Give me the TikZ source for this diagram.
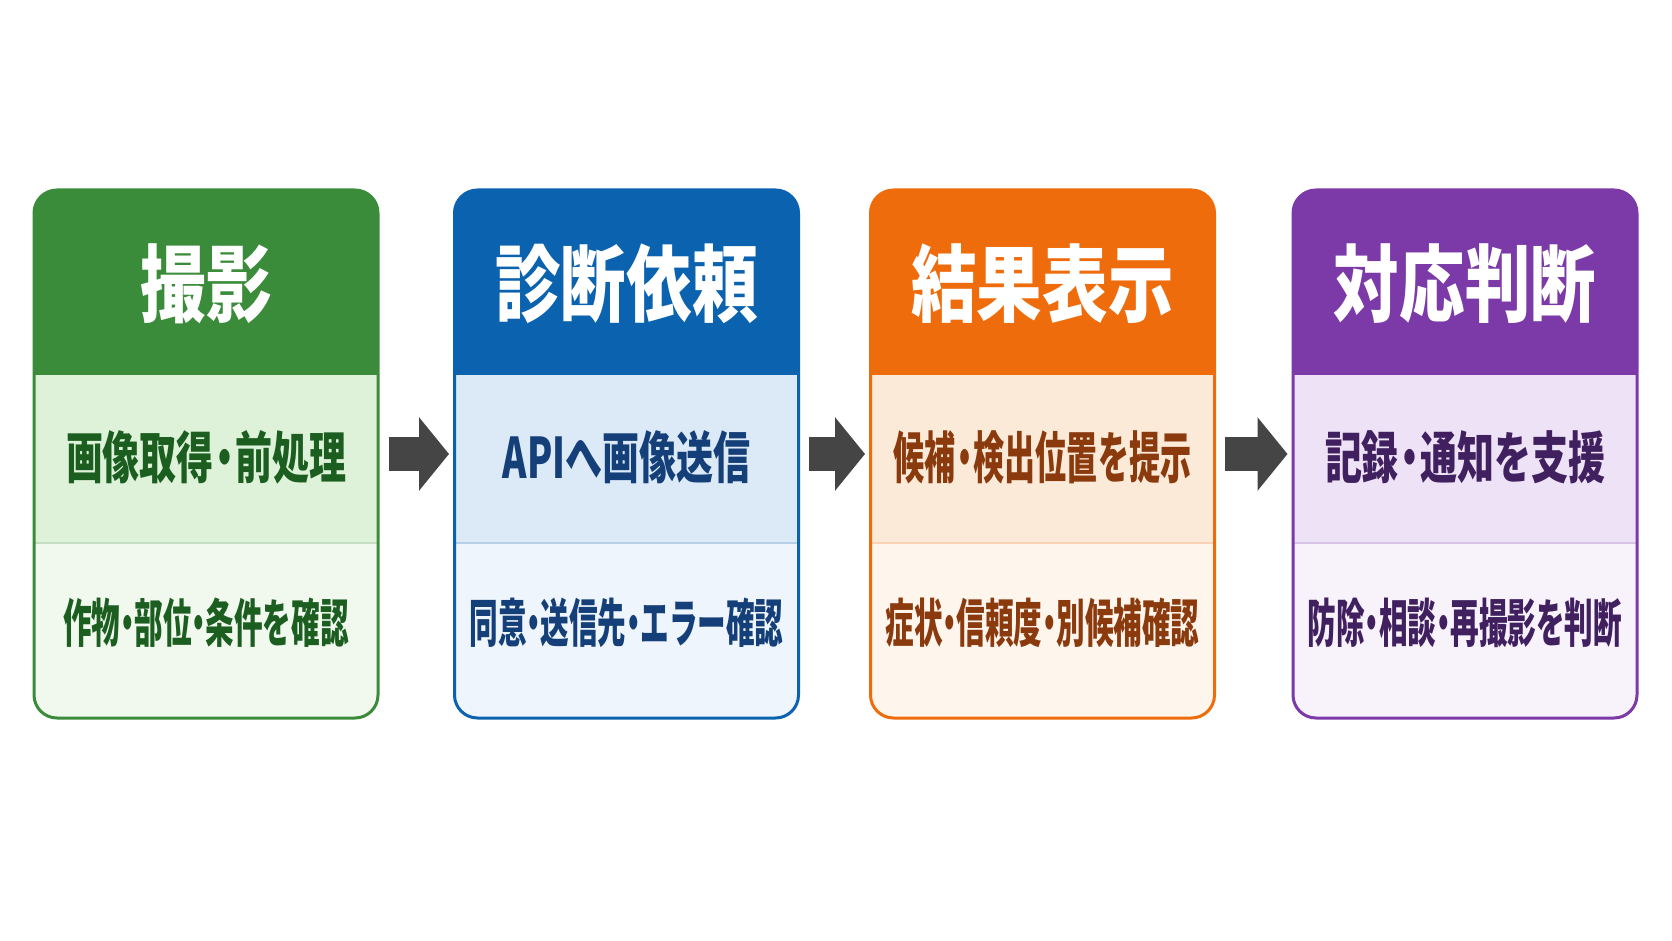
\documentclass[tikz,border=0pt]{standalone}
\usepackage{fontspec}
\usetikzlibrary{arrows.meta}
\newfontfamily\headfont{Noto Sans CJK JP}[FakeStretch=0.78]
\newfontfamily\midfont{Noto Sans CJK JP}[FakeStretch=0.66]
\newfontfamily\lowfont{Noto Sans CJK JP}[FakeStretch=0.55]
\newcommand\dt{\kern-.14em・\kern-.14em}
\definecolor{cGreen}{HTML}{3A8C3A}
\definecolor{cGreenA}{HTML}{DDF2D8}
\definecolor{cGreenB}{HTML}{F1F9EF}
\definecolor{cGreenT}{HTML}{1B5E20}
\definecolor{cBlue}{HTML}{0B63AF}
\definecolor{cBlueA}{HTML}{DCEAF8}
\definecolor{cBlueB}{HTML}{EEF5FC}
\definecolor{cBlueT}{HTML}{143F78}
\definecolor{cOrange}{HTML}{EF6C0C}
\definecolor{cOrangeA}{HTML}{FCEAD8}
\definecolor{cOrangeB}{HTML}{FEF5EC}
\definecolor{cOrangeT}{HTML}{8B3A0E}
\definecolor{cPurple}{HTML}{7B3AA8}
\definecolor{cPurpleA}{HTML}{EEE3F6}
\definecolor{cPurpleB}{HTML}{F8F2FB}
\definecolor{cPurpleT}{HTML}{40205F}
\definecolor{arrowgray}{HTML}{454545}
\tikzset{
  card/.style={draw=#1, fill=#1B, line width=1.5pt, rounded corners=11.5pt,
    minimum width=172pt, minimum height=264pt,
    path picture={
      \fill[#1, sharp corners] (path picture bounding box.north west)
        rectangle ([yshift=-92.5pt]path picture bounding box.north east);
      \fill[#1A, sharp corners] ([yshift=-92.5pt]path picture bounding box.north west)
        rectangle ([yshift=-176.5pt]path picture bounding box.north east);
      \draw[#1!30, line width=0.6pt, sharp corners] ([yshift=-176.5pt]path picture bounding box.north west)
        -- ([yshift=-176.5pt]path picture bounding box.north east);
    }},
  headtext/.style={text=white, font=\headfont\bfseries\fontsize{42}{46}\selectfont},
  midtext/.style={text=#1T, font=\midfont\bfseries\fontsize{28}{32}\selectfont},
  lowtext/.style={text=#1T, font=\lowfont\bfseries\fontsize{26}{30}\selectfont},
  flow/.style={draw=arrowgray, line width=17pt, shorten <=4.5pt, shorten >=2pt,
    -{Triangle[length=15pt,width=36pt]}}
}
\begin{document}
\begin{tikzpicture}[x=0.5pt,y=-0.5pt]
  \useasboundingbox[fill=white] (0,0) rectangle (1672,941);
  \foreach \i/\x/\c/\h/\m/\s/\l in {
      1/206/cGreen/撮影/画像取得\dt 前処理/1/作物\dt 部位\dt 条件を確認,
      2/626.5/cBlue/診断依頼/APIへ画像送信/1/同意\dt 送信先\dt エラー確認,
      3/1042.5/cOrange/結果表示/候補\dt 検出位置を提示/.84/症状\dt 信頼度\dt 別候補確認,
      4/1465/cPurple/対応判断/記録\dt 通知を支援/1/防除\dt 相談\dt 再撮影を判断} {
    \node[card/.expanded=\c] (c\i) at (\x,454) {};
    \node[headtext] (h\i) at ([yshift=-47.5pt]c\i.north) {\h};
    \node[midtext/.expanded=\c] (m\i) at ([yshift=-134.5pt]c\i.north) {\scalebox{\s}[1]{\m}};
    \node[lowtext/.expanded=\c] (l\i) at ([yshift=-217pt]c\i.north) {\l};
  }
  \foreach \i/\j in {1/2,2/3,3/4}
    \draw[flow] (c\i) -- (c\j);
\end{tikzpicture}
\end{document}
